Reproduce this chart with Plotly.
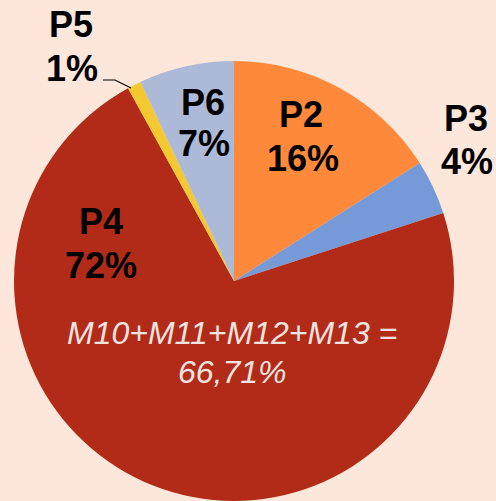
import plotly.graph_objects as go

W, H = 496, 501

labels = ["P2", "P3", "P4", "P5", "P6"]
values = [16, 4, 72, 1, 7]
pct_text = ["16%", "4%", "72%", "1%", "7%"]
colors = ["#FF893A", "#769AD8", "#B22B18", "#F4C830", "#ACBAD8"]
note_lines = ["M10+M11+M12+M13 =", "66,71%"]

# label positions in pixels (name line, percent line)
label_pos = {
    "P2": ((301, 115), (303, 158)),
    "P3": ((466, 118), (467, 161)),
    "P4": ((101, 221), (101, 265)),
    "P5": ((71, 25), (72, 68)),
    "P6": ((203, 102), (204, 143)),
}

fig = go.Figure(go.Pie(
    labels=labels, values=values, sort=False, direction="clockwise", rotation=0,
    marker=dict(colors=colors, line=dict(width=0)),
    textinfo="none", hoverinfo="label+percent", showlegend=False,
    domain=dict(x=[13 / W, 455 / W], y=[0, 440 / H]),
))

def px(x, y):
    return x / W, 1 - y / H

ann = []
for lab, pt in zip(labels, pct_text):
    (x1, y1), (x2, y2) = label_pos[lab]
    for (xx, yy), t in (((x1, y1), lab), ((x2, y2), pt)):
        ax, ay = px(xx, yy)
        ann.append(dict(x=ax, y=ay, xref="paper", yref="paper", text=t, showarrow=False,
                        xanchor="center", yanchor="middle",
                        font=dict(family="Liberation Sans, Arial", size=36, color="#000000", weight="bold")))

for (xx, yy), t in zip([(232, 333), (232, 372)], note_lines):
    ax, ay = px(xx, yy)
    ann.append(dict(x=ax, y=ay, xref="paper", yref="paper", text=t, showarrow=False,
                    xanchor="center", yanchor="middle",
                    font=dict(family="Liberation Sans, Arial", size=32, color="#EFE4E0", style="italic")))

p1, p2, p3 = px(103, 80), px(115, 80), px(131, 88)
fig.update_layout(
    width=W, height=H, margin=dict(l=0, r=0, t=0, b=0),
    paper_bgcolor="#FDE7DA", plot_bgcolor="#FDE7DA",
    annotations=ann,
    shapes=[dict(type="path", xref="paper", yref="paper",
                 path=f"M {p1[0]} {p1[1]} L {p2[0]} {p2[1]} L {p3[0]} {p3[1]}",
                 line=dict(color="#000000", width=1.2))],
)
fig.write_html("out.html")
